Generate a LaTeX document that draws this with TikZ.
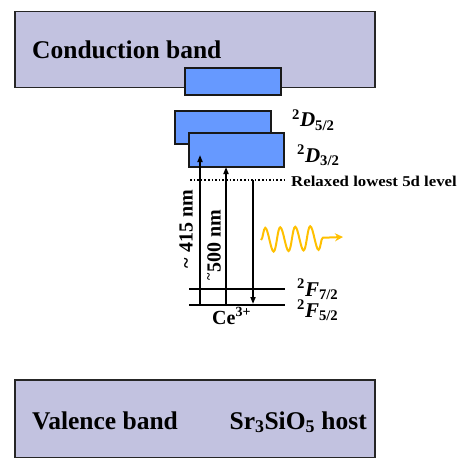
\documentclass[tikz,border=0pt]{standalone}
\usepackage{graphicx}
\usepackage{fontspec}
\setmainfont{Liberation Serif}
\usetikzlibrary{positioning, arrows.meta, decorations.pathmorphing}

\definecolor{bandlav}{RGB}{194,194,224}
\definecolor{stateblue}{RGB}{102,153,255}
\definecolor{wavegold}{RGB}{255,192,0}

\begin{document}
\begin{tikzpicture}[
    x=1pt, y=-1pt,
    band/.style={rectangle, draw=black!85, line width=1.8pt, fill=bandlav,
                 minimum width=360pt, minimum height=76pt, inner sep=0pt},
    dstate/.style={rectangle, draw=black!90, line width=1.6pt, fill=stateblue,
                   minimum width=96pt, minimum height=33pt, inner sep=0pt},
    bandtext/.style={font=\fontsize{25.5}{28}\selectfont\bfseries, inner sep=0pt},
    termtext/.style={font=\fontsize{21}{24}\selectfont\bfseries, inner sep=0pt, anchor=base west},
    nmtext/.style={font=\fontsize{20}{22}\selectfont\bfseries, inner sep=0pt, rotate=90},
    level/.style={line width=2.2pt},
    arrow/.style={line width=1.6pt, -{Triangle[length=7pt, width=5pt]}},
    wave/.style={draw=wavegold, line width=2pt, -{Stealth[length=8pt, width=8pt]},
                 decorate, decoration={snake, segment length=15pt, amplitude=12pt, post length=16pt}}
]
    \useasboundingbox (0,0) rectangle (462,457);

    % bands of the host
    \node[band] (cb) at (195,49.5) {};
    \node[bandtext, anchor=base west] (cbtext) at (32,59) {Conduction band};
    \node[band, minimum height=78pt] (vb) at (195,419) {};
    \node[bandtext, anchor=base west] (vbtext) at (32,429) {Valence band};
    \node[bandtext, anchor=base east] (host) at (367,429) {Sr\textsubscript{3}SiO\textsubscript{5} host};

    % 5d states of Ce
    \node[dstate, minimum height=27pt] (d5top) at (233,81.5) {};
    \node[dstate] (d52) at (223,127.5) {};
    \node[dstate, minimum width=95pt, minimum height=34pt] (d32) at (236.5,150) {};
    \node[termtext] (d52lbl) at (292,127) {\textsuperscript{2}\textit{D}\textsubscript{5/2}};
    \node[termtext] (d32lbl) at (297,162) {\textsuperscript{2}\textit{D}\textsubscript{3/2}};

    % relaxed 5d level
    \coordinate (rl1) at (190,180);
    \coordinate (rl2) at (285,180);
    \draw[line width=1.6pt, dotted] (rl1) -- (rl2);
    \node[anchor=base west, inner sep=0pt, font=\fontsize{15}{17}\selectfont\bfseries] (relax)
        at (291,186) {\scalebox{1.12}[1]{Relaxed lowest 5d level}};

    % 4f ground levels
    \coordinate (f7a) at (189,289);
    \coordinate (f7b) at (285,289);
    \coordinate (f5a) at (189,305);
    \coordinate (f5b) at (285,305);
    \draw[level] (f7a) -- (f7b);
    \draw[level] (f5a) -- (f5b);
    \node[termtext] (f72lbl) at (297,296) {\textsuperscript{2}\textit{F}\textsubscript{7/2}};
    \node[termtext] (f52lbl) at (297,317) {\textsuperscript{2}\textit{F}\textsubscript{5/2}};
    \node[anchor=base west, inner sep=0pt, font=\fontsize{20}{22}\selectfont\bfseries] (ce)
        at (212,324) {Ce\textsuperscript{3+}};

    % excitation and emission
    \coordinate (a1s) at (200,305);
    \coordinate (a1e) at (200,155);
    \coordinate (a2s) at (226,305);
    \coordinate (a2e) at (226,167);
    \coordinate (ems) at (253,180);
    \coordinate (eme) at (253,304);
    \draw[arrow] (a1s) -- (a1e);
    \draw[arrow] (a2s) -- (a2e);
    \draw[arrow] (ems) -- (eme);
    \node[nmtext] (nm415) at (186,229) {\textasciitilde\ 415 nm};
    \node[nmtext] (nm500) at (214,245) {\textsuperscript{\textasciitilde}500 nm};

    % emitted light
    \coordinate (w1) at (261,240);
    \coordinate (w2) at (343,237);
    \draw[wave] (w1) -- (w2);
\end{tikzpicture}
\end{document}
